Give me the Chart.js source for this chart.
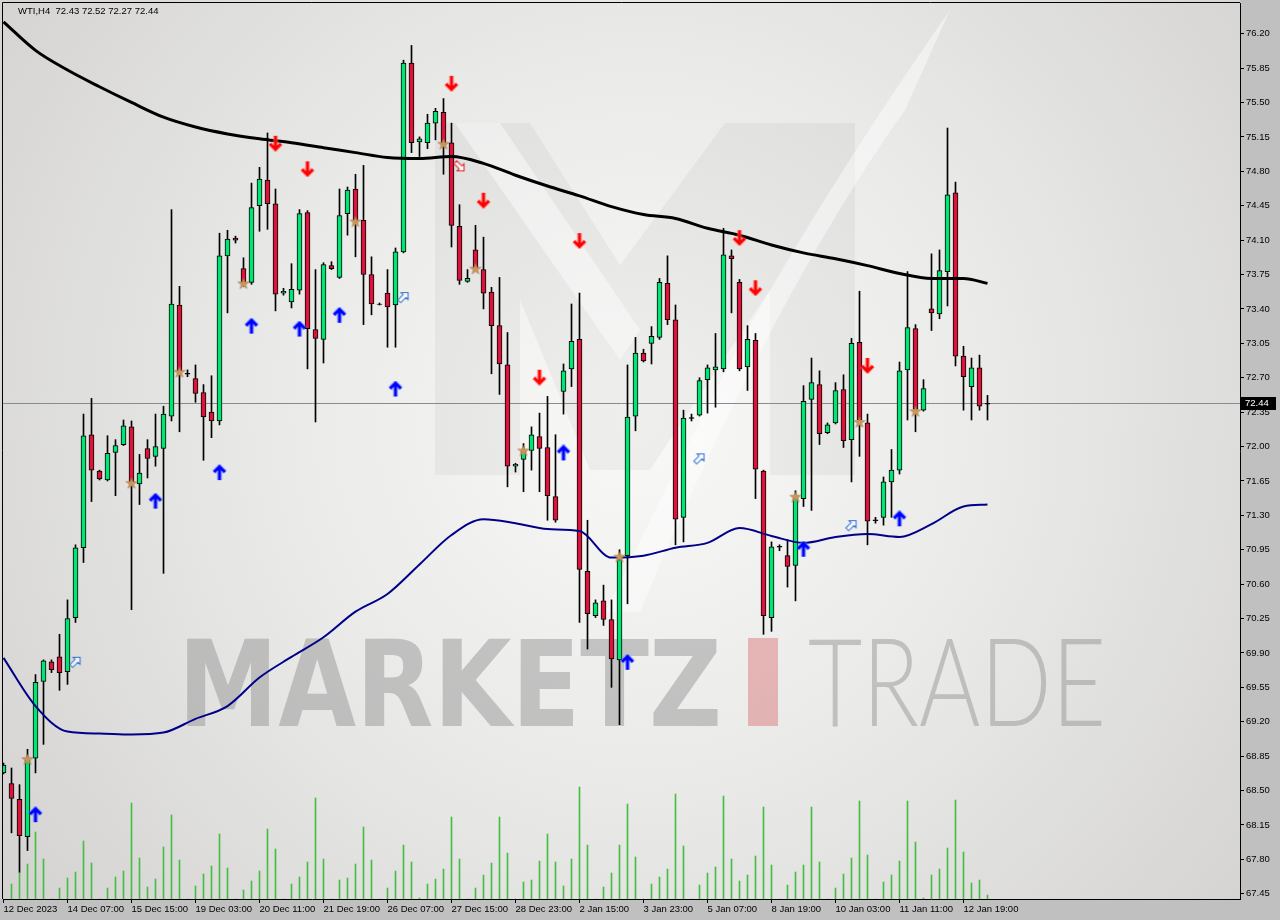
<!DOCTYPE html>
<html><head><meta charset="utf-8">
<script src="https://cdn.jsdelivr.net/npm/chart.js@4.4.1/dist/chart.umd.min.js"></script>
<style>html,body{margin:0;padding:0;background:#c0c0c0;}#wrap{width:1280px;height:920px;position:relative;}</style>
</head><body><div id="wrap"><canvas id="c"></canvas></div>
<script>
const symbolTitle = 'WTI,H4  72.43 72.52 72.27 72.44';
const timeLabels = ['12 Dec 2023','14 Dec 07:00','15 Dec 15:00','19 Dec 03:00','20 Dec 11:00','21 Dec 19:00','26 Dec 07:00','27 Dec 15:00','28 Dec 23:00','2 Jan 15:00','3 Jan 23:00','5 Jan 07:00','8 Jan 19:00','10 Jan 03:00','11 Jan 11:00','12 Jan 19:00'];
const timeLabelIdx = [0,8,16,24,32,40,48,56,64,72,80,88,96,104,112,120];
const priceTicks = [67.45,67.80,68.15,68.50,68.85,69.20,69.55,69.90,70.25,70.60,70.95,71.30,71.65,72.00,72.35,72.70,73.05,73.40,73.75,74.10,74.45,74.80,75.15,75.50,75.85,76.20];

const open  = [68.68,68.57,68.41,68.03,68.83,69.61,69.81,69.86,69.71,70.26,70.97,72.12,71.75,71.66,71.94,72.02,72.20,71.62,71.98,71.90,71.98,72.31,73.44,72.745,72.69,72.55,72.35,72.26,73.94,74.12,73.81,73.67,74.45,74.71,74.47,73.56,73.47,73.59,74.38,73.19,73.09,73.84,73.72,74.37,74.62,74.30,73.75,73.445,73.56,73.44,73.98,75.90,75.10,75.09,75.29,75.40,75.09,74.24,73.68,74.00,73.80,73.57,73.23,72.83,71.80,71.87,71.96,72.10,71.99,71.49,72.56,72.79,73.09,70.73,70.28,70.43,70.24,69.83,70.89,72.31,72.95,73.05,73.11,73.66,73.29,71.28,72.295,72.32,72.68,72.78,72.79,73.94,73.67,72.81,73.08,71.75,70.26,70.985,70.89,70.79,71.47,72.48,72.63,72.14,72.24,72.58,72.07,73.06,72.24,71.255,71.28,71.64,71.76,72.78,73.20,72.37,73.40,73.35,73.78,74.58,72.92,72.61,72.80,72.43];
const high  = [68.78,68.73,68.56,68.92,69.68,69.83,69.83,70.09,70.44,71.00,72.33,72.49,71.76,72.11,72.07,72.27,72.26,71.92,72.07,72.33,72.41,74.41,73.63,72.78,72.83,72.63,72.72,74.17,74.20,74.14,73.92,74.68,74.84,75.19,74.62,73.61,73.86,74.41,74.40,73.80,73.87,73.88,74.62,74.64,74.77,74.86,73.93,73.46,73.80,74.02,75.93,76.08,75.15,75.38,75.44,75.54,75.29,74.46,73.80,74.25,74.13,73.62,73.72,73.16,71.83,72.03,72.20,72.34,72.51,72.12,72.84,73.45,73.56,71.25,70.44,70.59,70.44,70.95,72.83,73.11,72.99,73.22,73.71,73.94,73.44,72.37,72.33,72.70,72.83,73.15,74.22,74.00,73.70,73.23,73.15,71.76,71.03,71.00,71.05,71.55,72.62,72.90,72.77,72.24,72.65,72.73,73.10,73.58,72.33,71.28,71.69,71.97,72.86,73.78,73.24,72.68,73.96,74.00,75.24,74.69,73.02,72.90,72.93,72.52];
const low   = [68.67,68.07,67.67,67.89,68.68,68.97,69.70,69.52,69.58,70.21,70.82,71.44,71.66,71.65,71.50,72.01,70.34,71.41,71.68,71.80,70.71,72.26,72.15,72.71,72.45,71.86,72.09,72.22,73.36,74.07,73.63,73.65,74.19,74.21,73.38,73.54,73.41,73.55,72.79,72.25,72.85,73.80,73.71,74.15,73.93,73.24,73.34,73.44,73.01,73.01,73.97,74.99,74.95,75.03,75.12,74.77,74.03,73.65,73.67,73.80,73.40,72.74,72.53,71.59,71.74,71.54,71.76,71.54,71.25,71.23,72.33,72.61,70.21,69.94,70.26,70.18,69.55,69.17,70.40,72.16,72.86,72.84,73.09,73.24,71.00,71.03,72.26,72.31,72.34,72.40,72.76,73.36,72.77,72.57,71.47,70.09,70.12,70.94,70.57,70.43,71.39,71.35,72.02,72.13,72.23,71.99,71.64,71.90,71.00,71.22,71.20,71.28,71.72,72.27,72.15,72.36,73.18,73.30,73.43,72.82,72.37,72.27,72.37,72.27];
const close = [68.76,68.42,68.04,68.81,69.60,69.82,69.73,69.70,70.25,70.97,72.11,71.76,71.67,71.93,72.01,72.21,71.63,71.73,71.88,72.00,72.33,73.45,72.77,72.735,72.54,72.30,72.26,73.94,74.11,74.10,73.67,74.43,74.72,74.47,73.55,73.58,73.60,74.37,73.20,73.10,73.85,73.81,74.35,74.61,74.30,73.75,73.45,73.45,73.42,73.98,75.90,75.09,75.13,75.29,75.41,75.09,74.25,73.69,73.71,73.82,73.56,73.23,72.84,71.80,71.82,71.95,72.12,71.98,71.50,71.25,72.77,73.07,70.75,70.30,70.41,70.24,69.84,70.85,72.30,72.95,72.87,73.12,73.67,73.29,71.26,72.29,72.285,72.67,72.80,72.81,73.95,73.91,72.79,73.09,71.77,70.28,70.98,70.975,70.78,71.47,72.46,72.65,72.13,72.22,72.57,72.06,73.05,72.27,71.24,71.245,71.64,71.76,72.77,73.21,72.38,72.59,73.36,73.79,74.56,72.92,72.71,72.80,72.41,72.44];
const volume = [0,15,27,35,67,40,0,11,21,27,58,36,0,11,22,28,96,41,12,20,52,84,39,0,13,25,33,65,31,0,9,18,28,70,50,0,15,22,37,101,40,0,19,21,35,72,39,0,11,28,54,37,1,15,20,30,82,40,0,11,24,36,82,46,0,17,19,38,65,37,13,40,112,54,0,12,26,54,95,42,0,15,22,30,105,53,0,14,26,32,103,40,18,24,43,92,34,0,14,27,34,92,37,0,11,25,41,98,44,0,17,24,38,98,57,1,24,30,51,99,47,16,19,4];

const maIdx = [0,4,8,12,16,20,24,28,32,36,40,44,48,52,56,60,64,68,72,76,80,84,88,92,96,100,104,108,112,116,120,123];
const maSlow = [76.32,76.03,75.83,75.66,75.50,75.35,75.25,75.18,75.13,75.09,75.04,74.99,74.94,74.93,74.95,74.88,74.76,74.65,74.55,74.44,74.36,74.32,74.22,74.15,74.05,73.97,73.91,73.84,73.76,73.71,73.71,73.66];
const maFast = [69.85,69.36,69.10,69.08,69.07,69.09,69.23,69.36,69.65,69.86,70.06,70.32,70.50,70.80,71.10,71.26,71.22,71.16,71.14,70.87,70.89,70.97,71.02,71.17,71.09,71.02,71.08,71.11,71.08,71.21,71.39,71.41];

const buyIdx = [4,19,27,31,37,42,49,70,78,100,112];
const buyPrice = [68.25,71.44,71.73,73.22,73.19,73.33,72.58,71.93,69.80,70.95,71.26];
const sellIdx = [34,38,56,60,67,72,92,94,108];
const sellPrice = [75.09,74.83,75.70,74.51,72.71,74.10,74.13,73.62,72.83];
const hollowBuyIdx = [9,50,87,106];
const hollowBuyPrice = [69.81,73.52,71.88,71.20];
const hollowSellIdx = [57];
const hollowSellPrice = [74.85];
const starIdx = [3,16,22,30,44,55,59,65,77,99,107,114];
const starPrice = [68.82,71.63,72.76,73.66,74.29,75.08,73.81,71.96,70.88,71.49,72.25,72.36];
const lastPrice = 72.44;

// ---------- marker images ----------
function mk(w,h,fn){const c=document.createElement('canvas');c.width=w;c.height=h;fn(c.getContext('2d'));return c;}
function solidArrow(color, glow, down){
  return mk(16,18,g=>{
    if(down){g.translate(0,18);g.scale(1,-1);}
    g.lineCap='butt';g.lineJoin='miter';
    const path=()=>{g.beginPath();g.moveTo(2.5,8);g.lineTo(8,2.5);g.lineTo(13.5,8);g.moveTo(8,3);g.lineTo(8,16);};
    path();g.strokeStyle=glow;g.lineWidth=5;g.stroke();
    path();g.strokeStyle=color;g.lineWidth=3;g.stroke();
  });
}
function hollowArrow(color, ang){
  return mk(16,16,g=>{
    g.translate(8,8);g.rotate(ang);
    const pts=[[0,-6.5],[5,-1.5],[2,-1.5],[2,6],[-2,6],[-2,-1.5],[-5,-1.5]];
    g.beginPath();pts.forEach((p,k)=>k?g.lineTo(p[0],p[1]):g.moveTo(p[0],p[1]));g.closePath();
    g.fillStyle='rgba(255,255,255,0.7)';g.fill();
    g.strokeStyle=color;g.lineWidth=1;g.stroke();
  });
}
const starImg = mk(14,14,g=>{
  g.translate(7,7.5);g.beginPath();
  for(let k=0;k<10;k++){const r=k%2?2.4:6;const a=-Math.PI/2+k*Math.PI/5;g.lineTo(r*Math.cos(a),r*Math.sin(a));}
  g.closePath();g.fillStyle='#c9975e';g.fill();g.strokeStyle='rgba(150,100,50,0.5)';g.lineWidth=0.8;g.stroke();
});
const upImg = solidArrow('#0000ff','rgba(110,150,255,0.55)',false);
const downImg = solidArrow('#ff0000','rgba(255,140,140,0.55)',true);
const hUpImg = hollowArrow('#2f6fd6',Math.PI/4);
const hDownImg = hollowArrow('#e02020',3*Math.PI/4);

// ---------- datasets ----------
const N = close.length;
const idx = Array.from({length:N},(_,i)=>i);
const pts = (ix, vals) => ix.map((v,k)=>({x:v,y:vals[k]}));
const bodyColors = idx.map(i => Math.abs(close[i]-open[i]) < 0.011 ? '#000000' : (close[i] >= open[i] ? '#00e676' : '#dc143c'));

const markerDs = (ix, vals, img) => ({type:'line', showLine:false, data:pts(ix,vals), pointStyle:img, pointRadius:6, pointHoverRadius:6, order:1});

// ---------- plugins ----------
const bgPlugin = {
  id:'bg',
  beforeDraw(chart){
    const {ctx, chartArea:a} = chart;
    ctx.save();
    ctx.fillStyle='#c0c0c0';ctx.fillRect(0,0,chart.width,chart.height);
    const g = ctx.createRadialGradient(640,420,20,640,420,820);
    g.addColorStop(0,'#f8f8f7');g.addColorStop(0.45,'#e9e9e8');g.addColorStop(1,'#d2d1cf');
    ctx.fillStyle=g;ctx.fillRect(0,0,a.right,a.bottom);
    // logo watermark
    ctx.fillStyle='rgba(0,0,0,0.04)';
    ctx.beginPath();
    ctx.moveTo(435,475);ctx.lineTo(435,123);ctx.lineTo(530,123);ctx.lineTo(620,265);ctx.lineTo(725,123);
    ctx.lineTo(855,123);ctx.lineTo(855,475);ctx.lineTo(770,475);ctx.lineTo(770,290);ctx.lineTo(650,470);
    ctx.lineTo(590,470);ctx.lineTo(520,300);ctx.lineTo(520,475);ctx.closePath();ctx.fill();
    ctx.fillStyle='rgba(255,255,255,0.45)';
    ctx.beginPath();ctx.moveTo(455,123);ctx.lineTo(500,123);ctx.lineTo(640,330);ctx.lineTo(620,360);ctx.closePath();ctx.fill();
    ctx.beginPath();ctx.moveTo(605,612);ctx.lineTo(700,420);ctx.quadraticCurveTo(790,240,950,10);
    ctx.lineTo(905,110);ctx.quadraticCurveTo(770,300,640,612);ctx.closePath();ctx.fill();
    // MARKETZ TRADE text
    ctx.fillStyle='rgba(150,150,150,0.5)';
    ctx.font='bold 120px "DejaVu Sans", "Liberation Sans", sans-serif';
    ctx.textBaseline='alphabetic';
    let w = ctx.measureText('MARKETZ').width;
    ctx.save();ctx.translate(178,726);ctx.scale(544/w,1);ctx.fillText('MARKETZ',0,0);ctx.restore();
    ctx.fillStyle='rgba(215,110,110,0.45)';ctx.fillRect(748,638,30,88);
    ctx.fillStyle='rgba(150,150,150,0.5)';
    ctx.font='300 122px Lato, "Open Sans", sans-serif';
    w = ctx.measureText('TRADE').width;
    ctx.save();ctx.translate(808,726);ctx.scale(298/w,1);ctx.fillText('TRADE',0,0);ctx.restore();
    ctx.restore();
  },
  beforeDatasetsDraw(chart){
    const {ctx, chartArea:a, scales} = chart;
    const y = Math.round(scales.y.getPixelForValue(lastPrice))+0.5;
    ctx.save();ctx.strokeStyle='#858b93';ctx.lineWidth=1;
    ctx.beginPath();ctx.moveTo(a.left,y);ctx.lineTo(a.right,y);ctx.stroke();ctx.restore();
  },
  afterDraw(chart){
    const {ctx, chartArea:a, scales} = chart;
    ctx.save();
    ctx.strokeStyle='#000';ctx.lineWidth=1;
    ctx.beginPath();ctx.moveTo(2.5,a.bottom);ctx.lineTo(2.5,2.5);ctx.lineTo(a.right,2.5);ctx.stroke();
    ctx.fillStyle='#000';ctx.font='9.5px "Liberation Sans", Arial, sans-serif';ctx.textBaseline='middle';ctx.textAlign='left';
    ctx.fillText(symbolTitle,18,11);
    const y = Math.round(scales.y.getPixelForValue(lastPrice));
    ctx.fillStyle='#000';ctx.fillRect(a.right+1,y-6,35,13);
    ctx.fillStyle='#fff';ctx.fillText(lastPrice.toFixed(2),a.right+5,y+0.5);
    ctx.restore();
  }
};

Chart.defaults.font.family='"Liberation Sans", Arial, sans-serif';
new Chart(document.getElementById('c'),{
  type:'bar',
  data:{datasets:[
    markerDs(buyIdx,buyPrice,upImg),
    markerDs(sellIdx,sellPrice,downImg),
    markerDs(hollowBuyIdx,hollowBuyPrice,hUpImg),
    markerDs(hollowSellIdx,hollowSellPrice,hDownImg),
    markerDs(starIdx,starPrice,starImg),
    {type:'line',label:'MA slow',data:pts(maIdx,maSlow),borderColor:'#000000',borderWidth:3,pointRadius:0,cubicInterpolationMode:'monotone',order:3},
    {type:'line',label:'MA fast',data:pts(maIdx,maFast),borderColor:'#000088',borderWidth:2,pointRadius:0,cubicInterpolationMode:'monotone',order:3},
    {type:'bar',label:'body',data:idx.map(i=>({x:i,y:[open[i],close[i]]})),backgroundColor:bodyColors,borderColor:'#000',borderWidth:1,borderSkipped:false,barThickness:5,grouped:false,order:5},
    {type:'bar',label:'wick',data:idx.map(i=>({x:i,y:[low[i],high[i]]})),backgroundColor:'#000',borderWidth:0,barThickness:1,grouped:false,order:6},
    {type:'bar',label:'volume',data:idx.map(i=>({x:i,y:volume[i]})),backgroundColor:'#46be46',borderWidth:0,barThickness:1,grouped:false,yAxisID:'vol',order:7}
  ]},
  options:{
    responsive:true,maintainAspectRatio:false,animation:false,events:[],
    layout:{autoPadding:false,padding:{left:3,top:3,right:0,bottom:0}},
    plugins:{legend:{display:false},tooltip:{enabled:false}},
    scales:{
      x:{type:'linear',min:-0.0625,max:154.5625,position:'bottom',offset:false,
        afterBuildTicks:s=>{s.ticks=timeLabelIdx.map(v=>({value:v}));},
        afterFit:s=>{s.height=21;s.paddingLeft=0;s.paddingRight=0;},
        ticks:{autoSkip:false,maxRotation:0,minRotation:0,align:'start',color:'#000',font:{size:9.5},padding:1,
          callback:v=>{const k=timeLabelIdx.indexOf(v);return k>=0?timeLabels[k]:'';}},
        grid:{drawOnChartArea:false,drawTicks:true,tickLength:4,color:'#000',offset:false},
        border:{display:true,color:'#000',width:1}},
      y:{type:'linear',position:'right',min:67.397,max:76.512,beginAtZero:false,
        afterBuildTicks:s=>{s.ticks=priceTicks.map(v=>({value:v}));},
        afterFit:s=>{s.width=40;s.paddingTop=0;s.paddingBottom=0;},
        ticks:{autoSkip:false,color:'#000',font:{size:9.5},padding:2,callback:v=>Number(v).toFixed(2)},
        grid:{drawOnChartArea:false,drawTicks:true,tickLength:4,color:'#000'},
        border:{display:true,color:'#000',width:1}},
      vol:{type:'linear',display:false,min:0,max:896,beginAtZero:true}
    }
  },
  plugins:[bgPlugin]
});
</script></body></html>
